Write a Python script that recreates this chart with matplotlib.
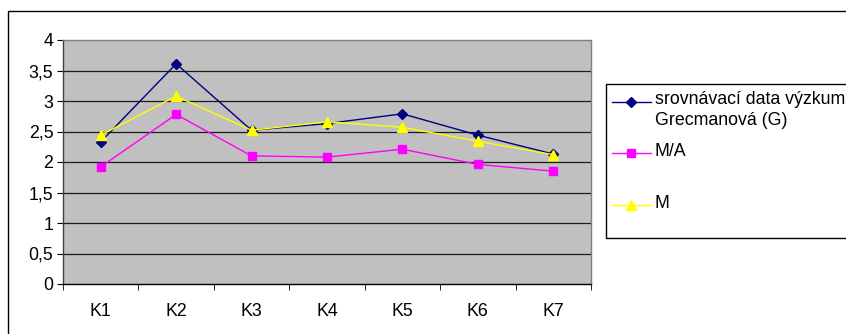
import numpy as np
import matplotlib.pyplot as plt
from matplotlib.patches import Rectangle
from matplotlib.lines import Line2D

plt.rcParams['font.family'] = ['Liberation Sans', 'DejaVu Sans']

# --- data ---
categories = ["K1", "K2", "K3", "K4", "K5", "K6", "K7"]
srovnavaci = [2.33, 3.61, 2.52, 2.63, 2.79, 2.44, 2.13]
m_a = [1.92, 2.78, 2.10, 2.08, 2.21, 1.96, 1.85]
m_only = [2.44, 3.08, 2.52, 2.66, 2.57, 2.34, 2.12]
series_labels = ["srovnávací data výzkum\nGrecmanová (G)", "M/A", "M"]
y_ticks = [0, 0.5, 1, 1.5, 2, 2.5, 3, 3.5, 4]
y_tick_labels = ["0", "0,5", "1", "1,5", "2", "2,5", "3", "3,5", "4"]

styles = [
    dict(color="#000080", marker="D", markersize=5.5),
    dict(color="#FF00FF", marker="s", markersize=6),
    dict(color="#FFFF00", marker="^", markersize=7.5),
]
fs = 12.8

W, H = 846, 334
fig = plt.figure(figsize=(W / 100, H / 100), dpi=100)

# outer chart frame
fig.add_artist(Rectangle((8 / W, -0.1), 2, 1 - 11 / H + 0.1, transform=fig.transFigure,
                         fill=False, edgecolor="black", linewidth=1))

ax = fig.add_axes([63 / W, (H - 284) / H, (591 - 63) / W, (284 - 40) / H])
ax.set_facecolor("#C0C0C0")

x = np.arange(len(categories))
for vals, st in zip([srovnavaci, m_a, m_only], styles):
    ax.plot(x, vals, linewidth=1, color=st["color"], marker=st["marker"],
            markersize=st["markersize"], markerfacecolor=st["color"],
            markeredgecolor=st["color"], zorder=3)

ax.set_xlim(-0.5, len(categories) - 0.5)
ax.set_ylim(0, 4)
ax.set_yticks(y_ticks)
ax.set_yticklabels(y_tick_labels, fontsize=fs)
ax.set_xticks(x)
ax.set_xticklabels(categories, fontsize=fs)
ax.tick_params(axis="x", which="major", length=0, pad=14)
ax.set_xticks(np.arange(-0.5, len(categories)), minor=True)
ax.tick_params(axis="x", which="minor", length=4, direction="out", color="black")
ax.tick_params(axis="y", length=4, direction="out", pad=3, color="black")

for yv in y_ticks[1:-1]:
    ax.axhline(yv, color="#1a1a1a", linewidth=0.9, zorder=1)

ax.spines["top"].set_color("#808080")
ax.spines["right"].set_color("#808080")
ax.spines["left"].set_color("#404040")
ax.spines["bottom"].set_color("black")
for sp in ax.spines.values():
    sp.set_linewidth(1)

# legend box drawn by hand so the entries sit where they belong
fig.add_artist(Rectangle((606 / W, (H - 238) / H), 2, (238 - 84) / H, transform=fig.transFigure,
                         fill=False, edgecolor="black", linewidth=1))
entry_y = [101.5, 152.5, 205]
for yy, lab, st in zip(entry_y, series_labels, styles):
    fy = (H - yy) / H
    fig.add_artist(Line2D([612 / W, 651 / W], [fy, fy], transform=fig.transFigure,
                          color=st["color"], linewidth=1))
    fig.add_artist(Line2D([631 / W], [fy], transform=fig.transFigure, color=st["color"],
                          marker=st["marker"], markersize=st["markersize"], linestyle="none"))
    fig.text(655 / W, fy + 10 / H, lab, fontsize=fs, va="top", ha="left", linespacing=1.25)

fig.savefig("out.png", dpi=100)
